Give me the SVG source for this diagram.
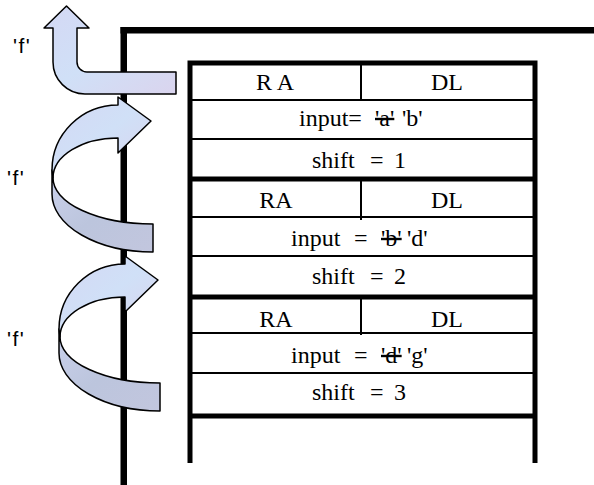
<svg xmlns="http://www.w3.org/2000/svg" width="594" height="485" viewBox="0 0 594 485">
<style>
.t{font-family:"Liberation Serif","Times New Roman",serif;font-size:24px;fill:#000}
.m{text-anchor:middle}
.f{font-family:"Liberation Sans",Arial,sans-serif;font-size:21px;letter-spacing:1.5px;fill:#000}
.thin{stroke:#000;stroke-width:2;fill:none}
.thick{stroke:#000;stroke-width:5;fill:none}
.front{fill:url(#gFront);stroke:#000;stroke-width:1.5;stroke-linejoin:round}
.back{fill:url(#gBack);stroke:#000;stroke-width:1.5;stroke-linejoin:round}
.s{text-decoration:line-through}
</style>
<defs>
<linearGradient id="gFront" x1="0" y1="0" x2="1" y2="1">
<stop offset="0" stop-color="#d4d8f4"/>
<stop offset="0.5" stop-color="#d0e0f7"/>
<stop offset="1" stop-color="#dad4ee"/>
</linearGradient>
<linearGradient id="gBack" x1="0" y1="0" x2="1" y2="1">
<stop offset="0" stop-color="#cad1ec"/>
<stop offset="0.5" stop-color="#bcc5dd"/>
<stop offset="1" stop-color="#c2c6de"/>
</linearGradient>
<path id="spBack" d="M 53,178 A 100 46 0 0 0 153,224 L 153,252 A 101 58 0 0 1 52,194 L 52,170 Z"/>
<path id="spFront" d="M 118,105 L 118,97 L 151,121 L 118,153 L 118,138 A 65 40 0 0 0 53,178 L 52,170 A 66 65 0 0 1 118,105 Z"/>
</defs>
<rect width="594" height="485" fill="#fff"/>

<g id="frame">
<rect x="120.5" y="27" width="6.5" height="458" fill="#000"/>
<rect x="120.5" y="27" width="473.5" height="6.5" fill="#000"/>
</g>

<g id="stack">
<path class="thick" d="M 190,463 V 63 H 535 V 463"/>
</g>

<g id="frame1">
<line class="thin" x1="361" y1="63" x2="361" y2="101"/>
<line class="thin" x1="190" y1="100" x2="535" y2="100"/>
<line class="thin" x1="190" y1="139" x2="535" y2="139"/>
<line class="thick" x1="190" y1="179" x2="535" y2="179"/>
<text class="t m" x="275" y="90">R A</text>
<text class="t m" x="447" y="90">DL</text>
<text class="t" y="126"><tspan x="299">input=</tspan><tspan x="375" class="s">'a'</tspan><tspan x="402">'b'</tspan></text>
<text class="t" y="168"><tspan x="312">shift</tspan><tspan x="370">=</tspan><tspan x="394">1</tspan></text>
</g>

<g id="frame2">
<line class="thin" x1="361" y1="179" x2="361" y2="220"/>
<line class="thin" x1="190" y1="217" x2="535" y2="217"/>
<line class="thin" x1="190" y1="256" x2="535" y2="256"/>
<line class="thick" x1="190" y1="297" x2="535" y2="297"/>
<text class="t m" x="276" y="208">RA</text>
<text class="t m" x="447" y="208">DL</text>
<text class="t" y="246"><tspan x="291">input</tspan><tspan x="354">=</tspan><tspan x="381" class="s">'b'</tspan><tspan x="407">'d'</tspan></text>
<text class="t" y="284"><tspan x="312">shift</tspan><tspan x="370">=</tspan><tspan x="394">2</tspan></text>
</g>

<g id="frame3">
<line class="thin" x1="361" y1="297" x2="361" y2="335"/>
<line class="thin" x1="190" y1="333" x2="535" y2="333"/>
<line class="thin" x1="190" y1="373" x2="535" y2="373"/>
<line class="thick" x1="190" y1="416" x2="535" y2="416"/>
<text class="t m" x="276" y="327">RA</text>
<text class="t m" x="447" y="327">DL</text>
<text class="t" y="363"><tspan x="291">input</tspan><tspan x="354">=</tspan><tspan x="381" class="s">'d'</tspan><tspan x="407">'g'</tspan></text>
<text class="t" y="400"><tspan x="312">shift</tspan><tspan x="370">=</tspan><tspan x="394">3</tspan></text>
</g>

<g id="arrows">
<g id="return-arrow">
<path class="front" d="M 66.5,6 L 89,28 L 77,28 L 77,62 A 10 10 0 0 0 87,72 L 176,72 L 176,94 L 85,94 A 32 32 0 0 1 53,62 L 53,28 L 44,28 Z"/>
</g>
<g id="call-arrow-1">
<use href="#spBack" class="back"/>
<use href="#spFront" class="front"/>
</g>
<g id="call-arrow-2" transform="translate(7,159)">
<use href="#spBack" class="back"/>
<use href="#spFront" class="front"/>
</g>
</g>

<g id="labels">
<text class="f" x="13" y="53">'f'</text>
<text class="f" x="7" y="185">'f'</text>
<text class="f" x="7" y="346">'f'</text>
</g>
</svg>
